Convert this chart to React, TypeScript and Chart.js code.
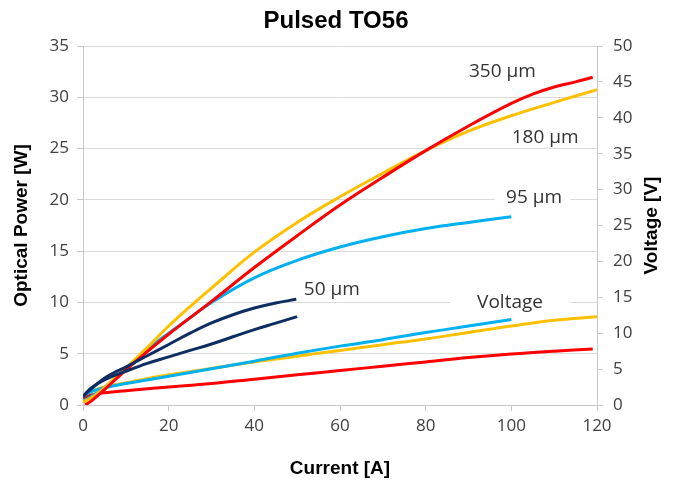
import React, { useEffect, useRef } from 'react';
import { Chart, registerables } from 'chart.js';

Chart.register(...registerables);

// ---- text ----
const chartTitle = 'Pulsed TO56';
const xTitle = 'Current [A]';
const yTitle = 'Optical Power [W]';
const y2Title = 'Voltage [V]';

// ---- optical power curves (A -> W) ----
const p350A = [0.5, 2, 5, 10, 15, 20, 30, 40, 50, 60, 70, 80, 90, 100, 105, 110, 115, 119];
const p350W = [0.0, 0.4, 1.5, 3.4, 5.2, 6.9, 10.1, 13.4, 16.5, 19.5, 22.2, 24.8, 27.2, 29.4, 30.3, 31.0, 31.5, 31.95];

const p180A = [0, 2, 5, 10, 15, 20, 25, 30, 40, 50, 60, 70, 80, 90, 100, 110, 120];
const p180W = [0.3, 0.7, 1.7, 3.6, 5.6, 7.7, 9.6, 11.4, 14.9, 17.8, 20.3, 22.6, 24.8, 26.7, 28.2, 29.5, 30.75];

const p95A = [0, 5, 10, 15, 20, 25, 30, 40, 50, 60, 70, 80, 90, 100];
const p95W = [0.3, 1.7, 3.5, 5.4, 7.0, 8.5, 10.0, 12.4, 14.1, 15.4, 16.4, 17.2, 17.8, 18.35];

const p50A = [0, 1.6, 5, 7, 10, 15, 20, 25, 30, 35, 40, 45, 49.8];
const p50W = [0.8, 1.45, 2.6, 3.1, 3.7, 4.8, 5.9, 7.0, 8.0, 8.8, 9.45, 9.95, 10.3];

// ---- voltage curves (A -> V) ----
const v350A = [0, 2, 5, 10, 20, 30, 40, 50, 60, 70, 80, 90, 100, 110, 119];
const v350V = [1.0, 1.4, 1.7, 2.0, 2.5, 3.0, 3.6, 4.2, 4.8, 5.4, 6.0, 6.6, 7.1, 7.5, 7.8];

const v180A = [0, 2, 5, 10, 20, 30, 40, 50, 60, 70, 80, 90, 100, 110, 120];
const v180V = [1.3, 1.9, 2.5, 3.1, 4.2, 5.1, 6.0, 6.8, 7.6, 8.4, 9.2, 10.1, 11.0, 11.8, 12.3];

const v95A = [0, 2, 5, 10, 20, 30, 40, 50, 60, 70, 80, 90, 100];
const v95V = [1.2, 1.9, 2.4, 3.0, 4.0, 5.05, 6.1, 7.2, 8.2, 9.1, 10.1, 11.0, 11.9];

const v50A = [0, 2, 5, 10, 15, 20, 25, 30, 35, 40, 45, 50];
const v50V = [1.2, 2.4, 3.5, 4.7, 5.8, 6.7, 7.6, 8.5, 9.5, 10.5, 11.4, 12.3];

// ---- in-chart labels (data coordinates) ----
const labelTexts = ['350 µm', '180 µm', '95 µm', '50 µm', 'Voltage'];
const labelX = [97.9, 107.9, 105.3, 58.1, 99.7];
const labelY = [32.5, 26.1, 20.2, 11.3, 10.0];
const labelBoxFrom = [null, null, 96.1, null, 85.7];
const labelBoxTo = [null, null, 113.8, null, 113.8];

const RED = '#ff0000';
const YELLOW = '#ffc000';
const CYAN = '#00b0f0';
const NAVY = '#0e2d62';

const pts = (xs: number[], ys: number[]) => xs.map((x, i) => ({ x, y: ys[i] }));

const TICK_FONT = { family: '"Open Sans", "DejaVu Sans", sans-serif', size: 17 };

const textPlugin = {
  id: 'textPlugin',
  beforeDatasetsDraw(chart: any) {
    const { ctx, scales } = chart;
    const xs = scales.x;
    const ys = scales.y;
    ctx.save();
    ctx.font = '19px "Open Sans", "DejaVu Sans", sans-serif';
    ctx.textAlign = 'center';
    ctx.textBaseline = 'middle';
    for (let i = 0; i < labelTexts.length; i++) {
      const px = xs.getPixelForValue(labelX[i]);
      const py = ys.getPixelForValue(labelY[i]);
      const bf = labelBoxFrom[i];
      const bt = labelBoxTo[i];
      if (bf !== null && bt !== null) {
        const x0 = xs.getPixelForValue(bf);
        const x1 = xs.getPixelForValue(bt);
        ctx.fillStyle = '#ffffff';
        ctx.fillRect(x0, py - 12, x1 - x0, 24);
      }
      ctx.fillStyle = '#333333';
      ctx.fillText(labelTexts[i], px, py);
    }
    ctx.restore();
  },
  afterDraw(chart: any) {
    const { ctx, chartArea } = chart;
    const cx = (chartArea.left + chartArea.right) / 2;
    const cy = (chartArea.top + chartArea.bottom) / 2;
    ctx.save();
    ctx.fillStyle = '#000000';
    ctx.textAlign = 'center';
    ctx.textBaseline = 'alphabetic';
    ctx.font = 'bold 24px "Liberation Sans", Arial, sans-serif';
    ctx.fillText(chartTitle, cx - 4, 28);
    ctx.font = 'bold 19px "Liberation Sans", Arial, sans-serif';
    ctx.textBaseline = 'middle';
    ctx.fillText(xTitle, cx, 469);
    ctx.save();
    ctx.translate(22, cy);
    ctx.rotate(-Math.PI / 2);
    ctx.fillText(yTitle, 0, 0);
    ctx.restore();
    ctx.save();
    ctx.translate(652, cy);
    ctx.rotate(-Math.PI / 2);
    ctx.fillText(y2Title, 0, 0);
    ctx.restore();
    ctx.restore();
  },
};

const lineDs = (data: { x: number; y: number }[], color: string, axis: string) => ({
  data,
  borderColor: color,
  backgroundColor: color,
  borderWidth: 3,
  pointRadius: 0,
  fill: false,
  tension: 0.4,
  yAxisID: axis,
});

export default function App() {
  const ref = useRef<HTMLCanvasElement>(null);
  useEffect(() => {
    document.body.style.margin = '0';
    const canvas = ref.current;
    if (!canvas) return;
    const chart = new Chart(canvas, {
      type: 'line',
      data: {
        datasets: [
          lineDs(pts(p50A, p50W), NAVY, 'y'),
          lineDs(pts(v50A, v50V), NAVY, 'y2'),
          lineDs(pts(p350A, p350W), RED, 'y'),
          lineDs(pts(p180A, p180W), YELLOW, 'y'),
          lineDs(pts(p95A, p95W), CYAN, 'y'),
          lineDs(pts(v95A, v95V), CYAN, 'y2'),
          lineDs(pts(v180A, v180V), YELLOW, 'y2'),
          lineDs(pts(v350A, v350V), RED, 'y2'),
        ] as any,
      },
      options: {
        responsive: false,
        animation: false,
        events: [],
        layout: { padding: { top: 46, left: 0, right: 0, bottom: 0 } },
        plugins: { legend: { display: false }, tooltip: { enabled: false }, title: { display: false } },
        scales: {
          x: {
            type: 'linear',
            min: 0,
            max: 120,
            ticks: { stepSize: 20, color: '#404040', font: TICK_FONT, padding: 5, maxRotation: 0 },
            grid: { drawOnChartArea: false, drawTicks: true, tickLength: 6, color: '#c8c8c8' },
            border: { display: true, color: '#c8c8c8' },
            afterFit: (s: any) => { s.height = 82; },
          },
          y: {
            position: 'left',
            min: 0,
            max: 35,
            ticks: { stepSize: 5, color: '#404040', font: TICK_FONT, padding: 8 },
            grid: { color: '#dadada', tickColor: '#c8c8c8', tickLength: 6 },
            border: { display: true, color: '#c8c8c8' },
            afterFit: (s: any) => { s.width = 83; },
          },
          y2: {
            position: 'right',
            min: 0,
            max: 50,
            ticks: { stepSize: 5, color: '#404040', font: TICK_FONT, padding: 10 },
            grid: { drawOnChartArea: false, tickColor: '#c8c8c8', tickLength: 6 },
            border: { display: true, color: '#c8c8c8' },
            afterFit: (s: any) => { s.width = 79; },
          },
        },
      },
      plugins: [textPlugin],
    });
    return () => chart.destroy();
  }, []);
  return (
    <div style={{ width: 676, height: 487 }}>
      <canvas ref={ref} width={676} height={487} style={{ display: 'block' }} />
    </div>
  );
}
